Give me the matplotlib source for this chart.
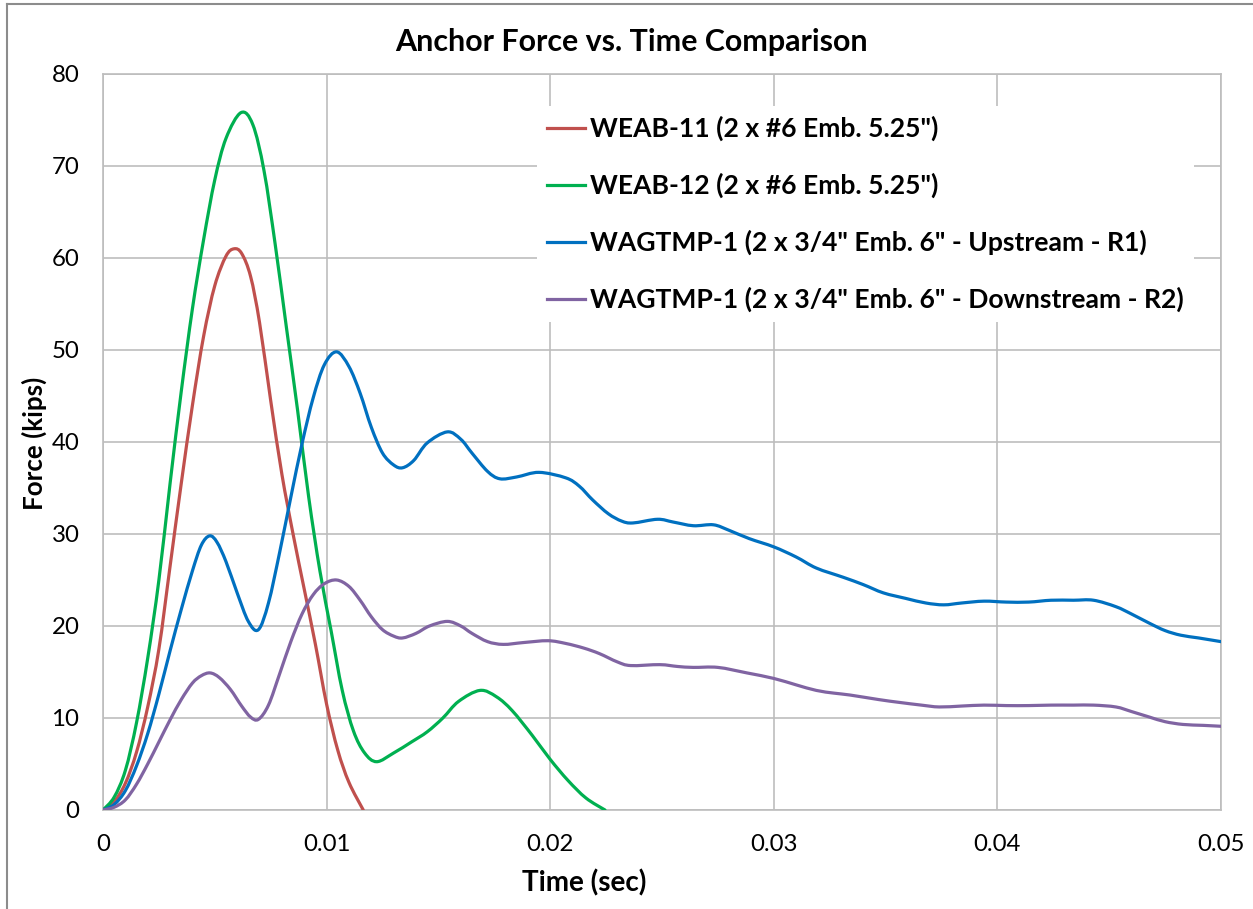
import matplotlib
matplotlib.use("Agg")
import numpy as np
import matplotlib.pyplot as plt
from matplotlib.font_manager import FontProperties
from matplotlib.textpath import TextPath
from matplotlib.lines import Line2D
from matplotlib.path import Path
from matplotlib.patches import PathPatch

# ---- data: time (sec) and anchor force (kips) ----
weab11_t = [0, 0.0005, 0.0010, 0.0015, 0.0020, 0.0025, 0.0030, 0.0035, 0.0040, 0.0045,
            0.0050, 0.0055, 0.00586, 0.0062, 0.0066, 0.0070, 0.0075, 0.0080, 0.0085,
            0.0090, 0.0095, 0.0100, 0.0105, 0.0110, 0.01164]
weab11_f = [0, 0.9, 2.9, 6.3, 11.2, 17.5, 26.5, 35.5, 44.0, 51.5,
            57.0, 60.2, 61.0, 60.5, 58.0, 53.0, 44.5, 36.5, 30.0,
            24.0, 18.0, 11.5, 6.5, 3.0, 0]

weab12_t = [0, 0.0005, 0.0010, 0.0015, 0.0020, 0.0025, 0.0030, 0.0035, 0.0040, 0.0045,
            0.0050, 0.0055, 0.00617, 0.0067, 0.0072, 0.0077, 0.0082, 0.0087, 0.0092,
            0.0097, 0.0102, 0.0107, 0.0112, 0.0117, 0.01224, 0.0130, 0.0138, 0.0145,
            0.0152, 0.0159, 0.01686, 0.0176, 0.0183, 0.0192, 0.0200, 0.0208, 0.0216,
            0.02245]
weab12_f = [0, 1.4, 4.3, 9.5, 16.5, 25.0, 35.5, 45.5, 54.5, 62.0,
            68.5, 73.0, 75.8, 74.5, 69.5, 61.5, 52.5, 43.5, 34.0,
            26.0, 19.5, 13.0, 8.6, 6.2, 5.25, 6.2, 7.4, 8.5,
            10.0, 11.8, 13.0, 12.3, 10.8, 8.1, 5.5, 3.2, 1.3,
            0]

up_t = [0, 0.0005, 0.0010, 0.0015, 0.0020, 0.0025, 0.0030, 0.0035, 0.0040, 0.0044,
        0.00477, 0.0051, 0.0055, 0.0060, 0.0065, 0.00695, 0.0074, 0.0079, 0.0084,
        0.0089, 0.0094, 0.0099, 0.01045, 0.0110, 0.0115, 0.0120, 0.0125, 0.0130,
        0.0134, 0.0139, 0.0145, 0.0154, 0.0160, 0.0165, 0.0172, 0.01775, 0.0185,
        0.0195, 0.0207, 0.0213, 0.0219, 0.0226, 0.0232, 0.0237, 0.0248, 0.0255,
        0.0264, 0.0273, 0.0280, 0.0289, 0.0300, 0.0310, 0.0319, 0.0331, 0.0340,
        0.0349, 0.0359, 0.0368, 0.0376, 0.0384, 0.0394, 0.0404, 0.0414, 0.0424,
        0.0434, 0.0443, 0.0453, 0.0460, 0.0468, 0.0475, 0.0482, 0.0490, 0.0500]
up_f = [0, 0.6, 2.1, 4.8, 8.3, 12.6, 17.3, 21.8, 26.0, 28.8,
        29.8, 29.1, 27.0, 23.6, 20.5, 19.6, 22.5, 28.0, 34.0,
        39.8, 44.8, 48.4, 49.8, 48.2, 45.3, 41.6, 38.8, 37.5,
        37.2, 38.0, 39.9, 41.1, 40.3, 38.8, 36.8, 36.0, 36.2,
        36.7, 36.1, 35.2, 33.7, 32.2, 31.4, 31.2, 31.6, 31.3,
        30.9, 31.0, 30.4, 29.5, 28.6, 27.5, 26.3, 25.3, 24.5,
        23.6, 23.0, 22.5, 22.3, 22.5, 22.7, 22.6, 22.6, 22.8,
        22.8, 22.8, 22.1, 21.3, 20.3, 19.5, 19.0, 18.7, 18.3]

down_t = [0, 0.0005, 0.0010, 0.0015, 0.0020, 0.0025, 0.0030, 0.0035, 0.0040, 0.0044,
          0.00479, 0.0052, 0.0057, 0.0062, 0.0066, 0.00695, 0.0074, 0.0079, 0.0084,
          0.0089, 0.0094, 0.0099, 0.01045, 0.0110, 0.0115, 0.0120, 0.0125, 0.0130,
          0.0134, 0.0140, 0.0146, 0.0154, 0.0160, 0.0165, 0.0172, 0.0179, 0.0188,
          0.0199, 0.0207, 0.0215, 0.0222, 0.0230, 0.0236, 0.0249, 0.0257, 0.0264,
          0.0275, 0.0288, 0.0300, 0.0310, 0.0319, 0.0327, 0.0334, 0.0347, 0.0356,
          0.0366, 0.0374, 0.0384, 0.0394, 0.0404, 0.0414, 0.0424, 0.0434, 0.0443,
          0.0453, 0.0460, 0.0468, 0.0475, 0.0483, 0.0492, 0.0500]
down_f = [0, 0.3, 1.1, 2.8, 5.0, 7.4, 9.8, 12.0, 13.8, 14.6,
          14.9, 14.4, 13.1, 11.3, 10.1, 9.85, 11.4, 14.8, 18.3,
          21.3, 23.4, 24.6, 25.0, 24.3, 22.8, 21.0, 19.6, 18.9,
          18.7, 19.2, 20.0, 20.5, 20.0, 19.2, 18.3, 18.0, 18.2,
          18.4, 18.1, 17.6, 17.0, 16.1, 15.7, 15.8, 15.6, 15.5,
          15.5, 14.9, 14.3, 13.6, 13.0, 12.7, 12.5, 12.0, 11.7,
          11.4, 11.2, 11.3, 11.4, 11.35, 11.35, 11.4, 11.4, 11.4,
          11.2, 10.7, 10.1, 9.6, 9.3, 9.2, 9.1]

series_labels = ['WEAB-11 (2 x #6 Emb. 5.25")',
                 'WEAB-12 (2 x #6 Emb. 5.25")',
                 'WAGTMP-1 (2 x 3/4" Emb. 6" - Upstream - R1)',
                 'WAGTMP-1 (2 x 3/4" Emb. 6" - Downstream - R2)']
series_colors = ['#C0504D', '#00B050', '#0070C0', '#8064A2']

x_ticks = [0, 0.01, 0.02, 0.03, 0.04, 0.05]
x_tick_labels = ['0', '0.01', '0.02', '0.03', '0.04', '0.05']
y_ticks = [0, 10, 20, 30, 40, 50, 60, 70, 80]
y_tick_labels = ['0', '10', '20', '30', '40', '50', '60', '70', '80']

chart_title = 'Anchor Force vs. Time Comparison'
x_title = 'Time (sec)'
y_title = 'Force (kips)'

# ---- styling ----
W, H, DPI = 1253, 909, 100
FAMILY = 'Lato'
GRID = '#BDBDBD'
LW = 2.3


def fit_size(text, weight, width_px):
    """Font size (pt) at which `text` spans `width_px` pixels."""
    prop = FontProperties(family=FAMILY, weight=weight)
    w = TextPath((0, 0), text, size=100, prop=prop).get_extents().width
    return width_px * 72.0 / DPI / w * 100.0


def smoothed_path(x, y):
    """Bezier path through the points, spreadsheet 'smoothed line' style."""
    pts = np.column_stack([x, y]).astype(float)
    n = len(pts)
    verts = [pts[0]]
    codes = [Path.MOVETO]
    for i in range(n - 1):
        p0 = pts[max(i - 1, 0)]
        p1 = pts[i]
        p2 = pts[i + 1]
        p3 = pts[min(i + 2, n - 1)]
        verts += [p1 + (p2 - p0) / 6.0, p2 - (p3 - p1) / 6.0, p2]
        codes += [Path.CURVE4] * 3
    return Path(verts, codes)


fig = plt.figure(figsize=(W / DPI, H / DPI), dpi=DPI)
fig.patch.set_facecolor('white')

# plot area in pixels: x 103..1221, y 74..810
L, R, T, B = 103, 1221, 74, 810
ax = fig.add_axes([L / W, 1 - B / H, (R - L) / W, (B - T) / H])

handles = []
for t, f, c in zip([weab11_t, weab12_t, up_t, down_t],
                   [weab11_f, weab12_f, up_f, down_f], series_colors):
    patch = PathPatch(smoothed_path(t, f), facecolor='none', edgecolor=c, lw=LW,
                      joinstyle='round', capstyle='round', zorder=3)
    ax.add_patch(patch)
    handles.append(Line2D([], [], color=c, lw=LW))

ax.set_xlim(0, 0.05)
ax.set_ylim(0, 80)
ax.set_xticks(x_ticks)
ax.set_xticklabels(x_tick_labels)
ax.set_yticks(y_ticks)
ax.set_yticklabels(y_tick_labels)

tick_size = fit_size('0.05', 'normal', 45)
ax.tick_params(axis='both', length=0, labelsize=tick_size, colors='black')
ax.tick_params(axis='x', pad=17)
ax.tick_params(axis='y', pad=17)
for lab in ax.get_xticklabels() + ax.get_yticklabels():
    lab.set_family(FAMILY)

ax.grid(True, color=GRID, lw=1.2, zorder=0)
ax.set_axisbelow(True)
for sp in ax.spines.values():
    sp.set_color(GRID)
    sp.set_linewidth(1.2)

# titles
title_size = fit_size(chart_title, 'bold', 471)
fig.text(631 / W, 1 - 42 / H, chart_title, ha='center', va='center',
         fontsize=title_size, fontweight='bold', family=FAMILY)
xt_size = fit_size(x_title, 'bold', 123)
fig.text(584 / W, 1 - 883 / H, x_title, ha='center', va='center',
         fontsize=xt_size, fontweight='bold', family=FAMILY)
yt_size = fit_size(y_title, 'bold', 130)
fig.text(34 / W, 1 - 443 / H, y_title, ha='center', va='center', rotation=90,
         fontsize=yt_size, fontweight='bold', family=FAMILY)

# legend
leg_size = fit_size(series_labels[3], 'bold', 593)
leg_px = leg_size * DPI / 72.0
leg = ax.legend(handles, series_labels, loc='upper left',
                bbox_to_anchor=(537 / W, 1 - 106 / H), bbox_transform=fig.transFigure,
                prop=FontProperties(family=FAMILY, weight='bold', size=leg_size),
                frameon=True, fancybox=False, facecolor='white', edgecolor='none',
                framealpha=1.0, handlelength=38 / leg_px, handletextpad=5 / leg_px,
                labelspacing=1.19, borderpad=10 / leg_px, borderaxespad=0)
leg.set_zorder(5)

# outer chart border (left and top edges)
fig.add_artist(Line2D([7 / W, 7 / W], [0, 1 - 4 / H], transform=fig.transFigure,
                      color='#8C8C8C', lw=1.5))
fig.add_artist(Line2D([7 / W, 1], [1 - 4 / H, 1 - 4 / H], transform=fig.transFigure,
                      color='#8C8C8C', lw=1.5))

fig.savefig('out.png', dpi=DPI, facecolor='white')
